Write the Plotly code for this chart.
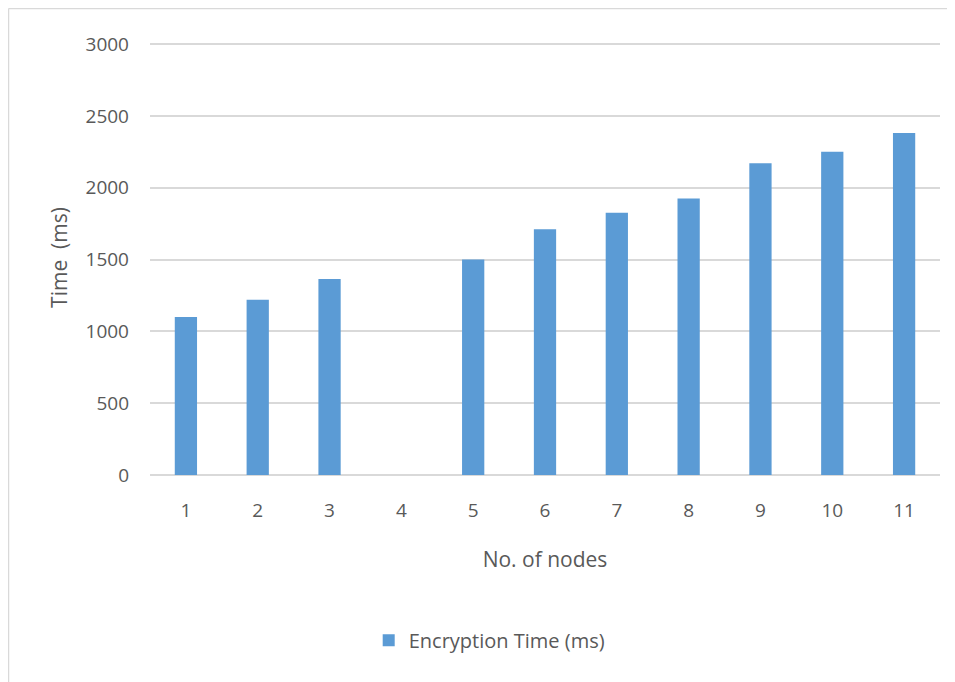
import plotly.graph_objects as go

nodes = ["1", "2", "3", "4", "5", "6", "7", "8", "9", "10", "11"]
encryption_time = [1100, 1220, 1365, None, 1500, 1710, 1825, 1925, 2170, 2250, 2380]
y_ticks = [0, 500, 1000, 1500, 2000, 2500, 3000]

# page body has an 8px margin, so the figure is drawn 8px smaller and shifted
OFF = 8
W, H = 955 - OFF, 682 - OFF
ml, mr, mt, mb = 150 - OFF, 15, 40 - OFF, 207
pw, ph = W - ml - mr, H - mt - mb

fig = go.Figure()
fig.add_trace(go.Bar(
    x=nodes, y=encryption_time, name="Encryption Time (ms)",
    marker=dict(color="#5b9bd5", line=dict(width=0)),
))

font = "Open Sans, Liberation Sans, sans-serif"
fig.update_layout(
    width=W, height=H,
    margin=dict(l=ml, r=mr, t=mt, b=mb, autoexpand=False),
    paper_bgcolor="white", plot_bgcolor="white",
    bargap=0.69,
    font=dict(family=font, size=19, color="#595959"),
    showlegend=True,
    legend=dict(orientation="h", x=0.43, xanchor="center", y=-0.38, yanchor="middle",
                font=dict(size=20, color="#595959"), itemwidth=30),
    xaxis=dict(type="category", showgrid=False, showline=False, ticks="",
               ticklabelstandoff=22,
               tickfont=dict(size=19, color="#595959"),
               title=dict(text="No. of nodes", font=dict(size=21, color="#595959"), standoff=30)),
    yaxis=dict(range=[0, 3028], tickvals=y_ticks, showgrid=True, gridcolor="#d9d9d9", gridwidth=1.5,
               zeroline=True, zerolinecolor="#d9d9d9", zerolinewidth=1.5, showline=False, ticks="",
               ticklabelstandoff=20,
               tickfont=dict(size=19, color="#595959"),
               title=dict(text="Time  (ms)", font=dict(size=21, color="#595959"), standoff=12)),
)

# outer chart border (top and left edges of the figure)
bx = -ml / pw + 0.5 / pw
by = 1 + (mt - 0.5) / ph
fig.add_shape(type="line", xref="paper", yref="paper", x0=bx, x1=(W - ml) / pw, y0=by, y1=by,
              line=dict(color="#d9d9d9", width=1.5))
fig.add_shape(type="line", xref="paper", yref="paper", x0=bx, x1=bx, y0=by, y1=-(mb) / ph,
              line=dict(color="#d9d9d9", width=1.5))

fig.write_html("out.html")
